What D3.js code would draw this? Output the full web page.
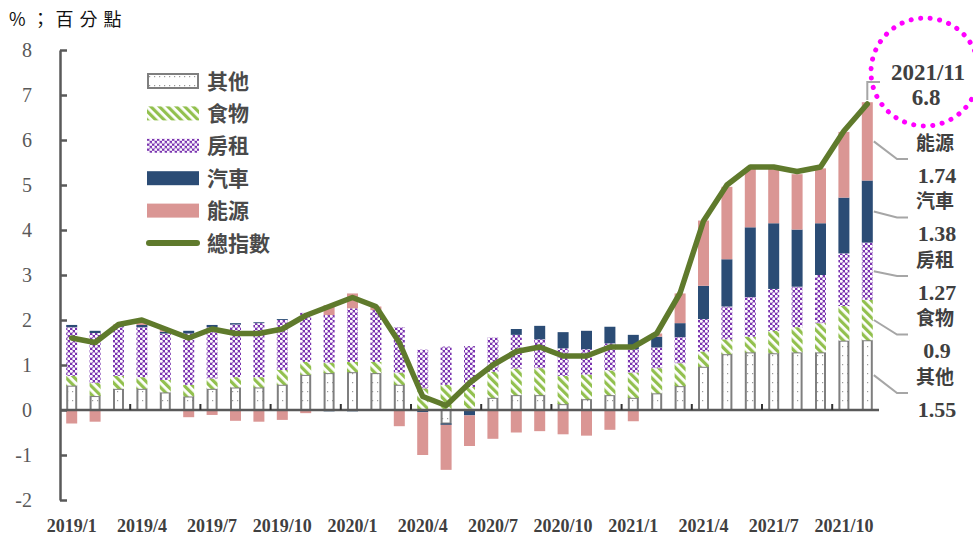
<!DOCTYPE html>
<html>
<head>
<meta charset="utf-8">
<script src="https://cdn.jsdelivr.net/npm/d3@7"></script>
<style>
body { margin: 0; background: #fff; }
</style>
</head>
<body>
<div id="chart"></div>
<script>
var months = ['2019/1','2019/2','2019/3','2019/4','2019/5','2019/6','2019/7','2019/8','2019/9','2019/10','2019/11','2019/12',
              '2020/1','2020/2','2020/3','2020/4','2020/5','2020/6','2020/7','2020/8','2020/9','2020/10','2020/11','2020/12',
              '2021/1','2021/2','2021/3','2021/4','2021/5','2021/6','2021/7','2021/8','2021/9','2021/10','2021/11'];

var other  = [0.54,0.31,0.47,0.47,0.39,0.30,0.47,0.50,0.50,0.56,0.78,0.82,0.84,0.82,0.56,0.02,-0.30,0.03,0.27,0.33,0.33,0.13,0.24,0.33,0.27,0.37,0.53,0.96,1.24,1.28,1.26,1.28,1.28,1.54,1.55];
var food   = [0.22,0.29,0.29,0.26,0.28,0.26,0.23,0.23,0.23,0.33,0.29,0.23,0.23,0.25,0.27,0.46,0.56,0.48,0.58,0.59,0.60,0.63,0.55,0.55,0.56,0.56,0.51,0.34,0.33,0.35,0.50,0.56,0.65,0.77,0.90];
var rent   = [1.08,1.11,1.09,1.11,1.03,1.14,1.14,1.17,1.20,1.11,1.09,1.06,1.19,1.15,1.01,0.86,0.85,0.91,0.76,0.75,0.64,0.61,0.56,0.60,0.52,0.46,0.58,0.72,0.73,0.88,0.93,0.90,1.07,1.17,1.27];
var car    = [0.05,0.05,0.02,0.05,0.04,0.06,0.05,0.03,0.02,0.02,0.00,-0.03,-0.03,0.00,0.00,-0.05,-0.03,-0.12,0.00,0.13,0.30,0.36,0.41,0.37,0.32,0.24,0.31,0.74,1.05,1.55,1.46,1.27,1.15,1.24,1.38];
var energy = [-0.30,-0.26,0.03,0.08,0.04,-0.16,-0.11,-0.24,-0.26,-0.22,-0.07,0.22,0.33,0.08,-0.36,-0.95,-1.00,-0.68,-0.64,-0.50,-0.47,-0.54,-0.57,-0.44,-0.25,0.07,0.66,1.45,1.61,1.32,1.25,1.23,1.22,1.46,1.74];
var total  = [1.6,1.5,1.9,2.0,1.8,1.6,1.8,1.7,1.7,1.8,2.1,2.3,2.5,2.3,1.5,0.3,0.1,0.6,1.0,1.3,1.4,1.2,1.2,1.4,1.4,1.7,2.6,4.2,5.0,5.4,5.4,5.3,5.4,6.2,6.8];

var seriesKeys  = ['other','food','rent','car','energy'];
var seriesNames = ['其他','食物','房租','汽車','能源'];
var lineName = '總指數';
var yTicks = [-2,-1,0,1,2,3,4,5,6,7,8];
var unitLabel = '%；百分點';

var width = 973, height = 535;
var serif = "'Liberation Serif','Noto Sans CJK TC',serif";
var cjk = "'Noto Sans CJK TC',serif";
var axisColor = '#595959';
var textColor = '#404040';

var rows = months.map(function (m, i) {
    return {month: m, other: other[i], food: food[i], rent: rent[i], car: car[i], energy: energy[i], total: total[i]};
});

var svg = d3.select('#chart').append('svg')
    .attr('width', width)
    .attr('height', height)
    .style('font-family', serif);

// fill patterns for the hatched series
var defs = svg.append('defs');

var pOther = defs.append('pattern').attr('id', 'pat-other')
    .attr('patternUnits', 'userSpaceOnUse').attr('width', 5).attr('height', 9);
pOther.append('rect').attr('width', 5).attr('height', 9).attr('fill', '#fff');
pOther.append('rect').attr('x', 2).attr('y', 4).attr('width', 1.2).attr('height', 1.2).attr('fill', '#9a9a9a');

var pFood = defs.append('pattern').attr('id', 'pat-food')
    .attr('patternUnits', 'userSpaceOnUse').attr('width', 6).attr('height', 6)
    .attr('patternTransform', 'rotate(-45)');
pFood.append('rect').attr('width', 6).attr('height', 6).attr('fill', '#fff');
pFood.append('rect').attr('width', 3.2).attr('height', 6).attr('fill', '#92c04e');

var pRent = defs.append('pattern').attr('id', 'pat-rent')
    .attr('patternUnits', 'userSpaceOnUse').attr('width', 5).attr('height', 5);
pRent.append('rect').attr('width', 5).attr('height', 5).attr('fill', '#7a33b0');
pRent.append('circle').attr('cx', 1.25).attr('cy', 1.25).attr('r', 1.5).attr('fill', '#fff');
pRent.append('circle').attr('cx', 3.75).attr('cy', 3.75).attr('r', 1.5).attr('fill', '#fff');

var fills = {
    other: 'url(#pat-other)',
    food: 'url(#pat-food)',
    rent: 'url(#pat-rent)',
    car: '#2b4c75',
    energy: '#da9694'
};
var lineColor = '#5f7a2c';

var x = d3.scaleBand()
    .domain(months)
    .range([60, 879])
    .paddingInner(0.53)
    .paddingOuter(0.265);

var y = d3.scaleLinear()
    .domain([-2, 8])
    .range([500, 50]);

var stacked = d3.stack()
    .keys(seriesKeys)
    .offset(d3.stackOffsetDiverging)(rows);

// bars
var layers = svg.append('g').selectAll('g')
    .data(stacked)
    .enter().append('g')
    .attr('class', function (s) { return 'series-' + s.key; });

layers.selectAll('rect')
    .data(function (s) { return s.map(function (d) { d.key = s.key; return d; }); })
    .enter().append('rect')
    .attr('x', function (d) { return x(d.data.month) + (d.key == 'other' ? 1 : 0); })
    .attr('width', function (d) { return x.bandwidth() - (d.key == 'other' ? 2 : 0); })
    .attr('y', function (d) { return y(Math.max(d[0], d[1])); })
    .attr('height', function (d) { return Math.abs(y(d[0]) - y(d[1])); })
    .attr('fill', function (d) { return fills[d.key]; })
    .attr('stroke', function (d) { return d.key == 'other' && Math.abs(d[1] - d[0]) > 0.03 ? '#7f7f7f' : 'none'; })
    .attr('stroke-width', 2);

// y axis, ticks pointing inward
var yAxis = svg.append('g')
    .attr('transform', 'translate(60,0)')
    .call(d3.axisLeft(y).tickValues(yTicks)
        .tickFormat(function (d) { return String(d); })
        .tickSizeInner(-7).tickSizeOuter(0).tickPadding(28));
yAxis.select('.domain').attr('stroke', axisColor).attr('stroke-width', 2.5);
yAxis.selectAll('.tick line').attr('stroke', axisColor).attr('stroke-width', 2.5);
yAxis.selectAll('.tick text')
    .style('font-family', serif)
    .style('font-size', '20px')
    .attr('fill', axisColor);

// zero line + category group ticks
svg.append('line')
    .attr('x1', 60).attr('x2', 879)
    .attr('y1', y(0)).attr('y2', y(0))
    .attr('stroke', axisColor)
    .attr('stroke-width', 2.5);

var groupTicks = months.filter(function (m, i) { return i > 0 && i % 3 == 0; });
svg.append('g').selectAll('line')
    .data(groupTicks)
    .enter().append('line')
    .attr('x1', function (m) { return x(m) - (x.step() - x.bandwidth()) / 2; })
    .attr('x2', function (m) { return x(m) - (x.step() - x.bandwidth()) / 2; })
    .attr('y1', y(0))
    .attr('y2', y(0) - 6)
    .attr('stroke', '#333')
    .attr('stroke-width', 2);

// x labels at the bottom
var xAxis = svg.append('g')
    .attr('transform', 'translate(0,519)')
    .call(d3.axisBottom(x)
        .tickValues(months.filter(function (m, i) { return i % 3 == 0; }))
        .tickSize(0).tickPadding(0));
xAxis.select('.domain').remove();
xAxis.selectAll('.tick text')
    .style('font-family', serif)
    .style('font-size', '18px')
    .style('font-weight', 'bold')
    .attr('fill', textColor);

// total line
var line = d3.line()
    .x(function (d) { return x(d.month) + x.bandwidth() / 2; })
    .y(function (d) { return y(d.total); });

svg.append('path')
    .datum(rows)
    .attr('d', line)
    .attr('fill', 'none')
    .attr('stroke', lineColor)
    .attr('stroke-width', 5.5)
    .attr('stroke-linejoin', 'round')
    .attr('stroke-linecap', 'round');

// unit label
svg.append('text')
    .attr('x', 9).attr('y', 26)
    .style('font-family', cjk)
    .style('font-size', '18px')
    .style('letter-spacing', '6px')
    .attr('fill', '#111')
    .text(unitLabel);

// legend
var legend = svg.append('g').attr('transform', 'translate(147,81)');
var legendStep = 32.4;
seriesKeys.forEach(function (k, i) {
    var g = legend.append('g').attr('transform', 'translate(0,' + (i * legendStep) + ')');
    g.append('rect')
        .attr('x', k == 'other' ? 1 : 0).attr('y', -7)
        .attr('width', k == 'other' ? 50 : 52).attr('height', 14)
        .attr('fill', fills[k])
        .attr('stroke', k == 'other' ? '#7f7f7f' : 'none')
        .attr('stroke-width', 2);
    g.append('text')
        .attr('x', 60).attr('y', 0).attr('dy', '0.36em')
        .style('font-family', cjk)
        .style('font-size', '21px')
        .style('font-weight', 'bold')
        .attr('fill', '#4a4a4a')
        .text(seriesNames[i]);
});
var lg = legend.append('g').attr('transform', 'translate(0,' + (seriesKeys.length * legendStep) + ')');
lg.append('line')
    .attr('x1', 2).attr('x2', 50).attr('y1', 0).attr('y2', 0)
    .attr('stroke', lineColor).attr('stroke-width', 6).attr('stroke-linecap', 'round');
lg.append('text')
    .attr('x', 60).attr('y', 0).attr('dy', '0.36em')
    .style('font-family', cjk)
    .style('font-size', '21px')
    .style('font-weight', 'bold')
    .attr('fill', '#4a4a4a')
    .text(lineName);

// latest month breakdown labels
var last = rows.length - 1;
var barRight = x(months[last]) + x.bandwidth();
var blockTop = 159, blockStep = 58.5, labelX = 935;
var order = seriesKeys.slice().reverse();
order.forEach(function (k, j) {
    var layer = stacked[seriesKeys.indexOf(k)];
    var seg = layer[last];
    var mid = y((seg[0] + seg[1]) / 2);
    var c = blockTop + j * blockStep;
    svg.append('path')
        .attr('d', 'M' + (barRight + 1) + ',' + mid + 'L' + (labelX - 38) + ',' + c + 'L' + (labelX - 27) + ',' + c)
        .attr('fill', 'none')
        .attr('stroke', '#a6a6a6')
        .attr('stroke-width', 2);
    svg.append('text')
        .attr('x', labelX).attr('y', c - 16).attr('dy', '0.36em')
        .attr('text-anchor', 'middle')
        .style('font-family', cjk)
        .style('font-size', '19px')
        .style('font-weight', 'bold')
        .attr('fill', textColor)
        .text(seriesNames[seriesKeys.indexOf(k)]);
    svg.append('text')
        .attr('x', labelX + 2).attr('y', c + 16).attr('dy', '0.36em')
        .attr('text-anchor', 'middle')
        .style('font-size', '22px')
        .style('font-weight', 'bold')
        .attr('fill', textColor)
        .text(String(rows[last][k]));
});

// total callout
var lastX = x(months[last]) + x.bandwidth() / 2;
svg.append('path')
    .attr('d', 'M' + lastX + ',' + (y(total[last]) - 4) + 'V82H880')
    .attr('fill', 'none')
    .attr('stroke', '#a6a6a6')
    .attr('stroke-width', 2);
svg.append('circle')
    .attr('cx', 925).attr('cy', 72).attr('r', 54)
    .attr('fill', 'none')
    .attr('stroke', '#ff00ff')
    .attr('stroke-width', 5)
    .attr('stroke-linecap', 'round')
    .attr('stroke-dasharray', '0.1 9.5');
svg.append('text')
    .attr('x', 928).attr('y', 72).attr('dy', '0.36em')
    .attr('text-anchor', 'middle')
    .style('font-size', '23px')
    .style('font-weight', 'bold')
    .attr('fill', textColor)
    .text(months[last]);
svg.append('text')
    .attr('x', 926).attr('y', 97).attr('dy', '0.36em')
    .attr('text-anchor', 'middle')
    .style('font-size', '23px')
    .style('font-weight', 'bold')
    .attr('fill', textColor)
    .text(String(total[last]));
</script>
</body>
</html>
